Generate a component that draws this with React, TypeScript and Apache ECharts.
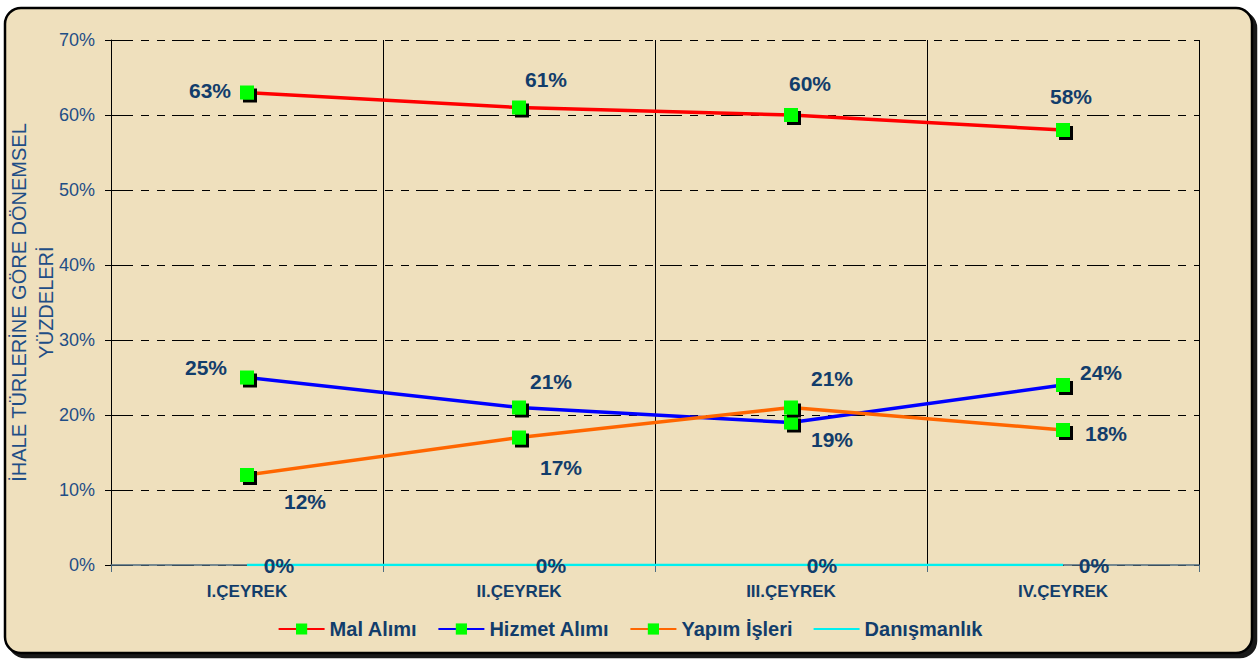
import React, { useEffect, useRef } from "react";
import * as echarts from "echarts";

const categories = ["I.ÇEYREK", "II.ÇEYREK", "III.ÇEYREK", "IV.ÇEYREK"];
const malAlimi = [63, 61, 60, 58];
const hizmetAlimi = [25, 21, 19, 24];
const yapimIsleri = [12, 17, 21, 18];
const danismanlik = [0, 0, 0, 0];
const yTickMax = 70;
const yTickStep = 10;

const malOffsets = [[-37, -2], [27, -28], [19, -32], [8, -34]];
const hizmetOffsets = [[-41, -10], [32, -26], [41, 17], [38, -13]];
const yapimOffsets = [[58, 26], [42, 30], [41, -29], [43, 3]];
const danisOffsets = [[32, 0], [32, 0], [31, 0], [31, 0]];

const NAVY = "#123d6b";
const FONT = "Liberation Sans, Arial, sans-serif";

function withLabels(values: number[], offsets: number[][]) {
  return values.map((v, i) => ({
    value: v,
    label: { offset: offsets[i] },
  }));
}

const markerStyle = {
  color: "#00ff00",
  borderWidth: 0,
  shadowColor: "#000",
  shadowBlur: 0,
  shadowOffsetX: 3,
  shadowOffsetY: 3,
};

const labelBase = {
  show: true,
  position: "inside",
  align: "center",
  verticalAlign: "middle",
  formatter: "{c}%",
  color: NAVY,
  fontSize: 21,
  fontWeight: "bold",
  fontFamily: FONT,
};

export default function App() {
  const ref = useRef<HTMLDivElement>(null);
  useEffect(() => {
    if (!ref.current) return;
    const chart = echarts.init(ref.current, undefined, { renderer: "svg" });
    const lineSeries = (name: string, data: number[], color: string, offsets: number[][]) => ({
      name,
      type: "line",
      data: withLabels(data, offsets),
      symbol: "rect",
      symbolSize: 14,
      lineStyle: { color, width: 3.5 },
      itemStyle: { ...markerStyle },
      label: { ...labelBase },
      z: 3,
    });
    chart.setOption({
      animation: false,
      backgroundColor: "#ffffff",
      textStyle: { fontFamily: FONT },
      graphic: [
        {
          type: "rect",
          z: -10,
          silent: true,
          shape: { x: 5, y: 8, width: 1247, height: 645, r: 16 },
          style: {
            fill: "#efe0bd",
            stroke: "#000",
            lineWidth: 2.5,
            shadowColor: "rgba(0,0,0,0.9)",
            shadowBlur: 0,
            shadowOffsetX: 4,
            shadowOffsetY: 4,
          },
        },
      ],
      grid: {
        left: 111,
        right: 61,
        top: 40,
        bottom: 95,
        containLabel: false,
        outerBoundsMode: "none",
      },
      legend: {
        bottom: 16,
        left: "center",
        itemWidth: 46,
        itemHeight: 14,
        itemGap: 20,
        textStyle: {
          color: NAVY,
          fontSize: 20,
          fontWeight: "bold",
          fontFamily: FONT,
        },
        data: [
          "Mal Alımı",
          "Hizmet Alımı",
          "Yapım İşleri",
          { name: "Danışmanlık", itemStyle: { color: "rgba(0,0,0,0)", opacity: 0 } },
        ],
      },
      xAxis: {
        type: "category",
        data: categories,
        boundaryGap: true,
        axisLine: { show: true, lineStyle: { color: "#4d6b80", width: 1.5 } },
        axisTick: { show: true, length: 7, lineStyle: { color: "#4d6b80" } },
        splitLine: { show: true, lineStyle: { color: "#000", width: 1 } },
        axisLabel: {
          color: NAVY,
          fontSize: 17,
          fontWeight: "bold",
          margin: 18,
          fontFamily: FONT,
        },
      },
      yAxis: {
        type: "value",
        min: 0,
        max: yTickMax,
        interval: yTickStep,
        name: "İHALE TÜRLERİNE GÖRE DÖNEMSEL\nYÜZDELERİ",
        nameLocation: "middle",
        nameGap: 52,
        nameMoveOverlap: false,
        nameRotate: 90,
        nameTextStyle: {
          color: "#1f4e86",
          fontSize: 20,
          lineHeight: 27,
          fontFamily: FONT,
        },
        axisLine: { show: true, lineStyle: { color: "#000", width: 1 } },
        axisTick: { show: true, length: 6, lineStyle: { color: "#000" } },
        splitLine: {
          show: true,
          lineStyle: { color: "#000", width: 1, type: [22, 8, 8, 8, 8, 7] },
        },
        axisLabel: {
          formatter: "{value}%",
          color: "#1f4e86",
          fontSize: 18,
          margin: 16,
          fontFamily: FONT,
        },
      },
      series: [
        lineSeries("Mal Alımı", malAlimi, "#ff0000", malOffsets),
        lineSeries("Hizmet Alımı", hizmetAlimi, "#0000ff", hizmetOffsets),
        lineSeries("Yapım İşleri", yapimIsleri, "#ff6600", yapimOffsets),
        {
          name: "Danışmanlık",
          type: "line",
          data: withLabels(danismanlik, danisOffsets),
          symbol: "rect",
          symbolSize: 1,
          showSymbol: true,
          lineStyle: { color: "#00f0f0", width: 2.5 },
          itemStyle: { color: "rgba(0,0,0,0)" },
          label: { ...labelBase },
          z: 2,
        },
      ],
    });
    return () => chart.dispose();
  }, []);
  return (
    <div
      ref={ref}
      style={{ position: "fixed", left: 0, top: 0, width: 1260, height: 660 }}
    />
  );
}
